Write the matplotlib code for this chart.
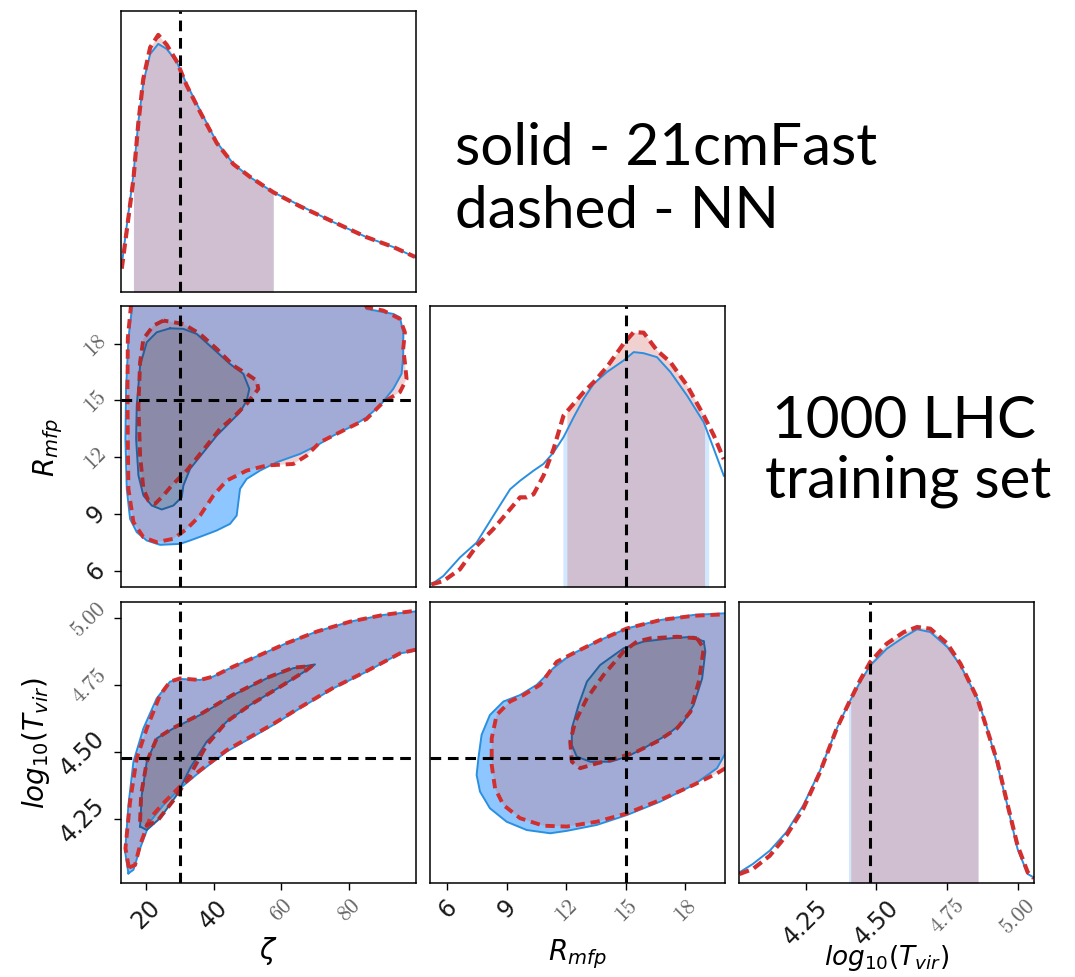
import matplotlib.pyplot as plt
import numpy as np

# parameter ranges shown on each axis
zeta_lim = (12.6, 99.8)
rmfp_lim = (5.13, 20.0)
tvir_lim = (4.013, 5.058)

# true parameter values
zeta_true = 30.0
rmfp_true = 15.0
tvir_true = 4.477

# ---- 1D marginals (relative density, 1 = top of the panel) ----
zeta_grid = [12.8, 14.3, 16.25, 17.7, 19.2, 21.2, 23.6, 26.1, 29.1, 32.0, 36.0,
             40.9, 45.8, 50.7, 57.6, 65.5, 75.3, 85.2, 93.1, 99.5]
zeta_pdf_sim = [0.095, 0.237, 0.415, 0.604, 0.746, 0.847, 0.883, 0.865, 0.818, 0.74,
                0.646, 0.533, 0.456, 0.409, 0.355, 0.308, 0.249, 0.195, 0.16, 0.124]
zeta_pdf_nn = [0.083, 0.22, 0.40, 0.60, 0.76, 0.87, 0.915, 0.88, 0.82, 0.735,
               0.64, 0.53, 0.455, 0.41, 0.355, 0.305, 0.25, 0.195, 0.16, 0.125]
zeta_ci_sim = (16.25, 57.6)
zeta_ci_nn = (16.3, 57.6)

rmfp_grid = [5.21, 5.80, 6.64, 7.48, 8.32, 9.17, 9.67, 10.01, 10.35, 10.85, 11.36,
             11.86, 12.37, 12.87, 13.38, 14.05, 14.89, 15.40, 15.90, 16.57, 17.25,
             18.09, 18.93, 19.44, 19.94]
rmfp_pdf_sim = [0.0095, 0.039, 0.105, 0.158, 0.253, 0.348, 0.378, 0.396, 0.414, 0.438,
                0.479, 0.533, 0.604, 0.669, 0.723, 0.765, 0.806, 0.836, 0.832, 0.818,
                0.765, 0.681, 0.586, 0.491, 0.396]
rmfp_pdf_nn = [0.0095, 0.021, 0.063, 0.146, 0.206, 0.277, 0.319, 0.319, 0.330, 0.396,
               0.491, 0.610, 0.652, 0.693, 0.729, 0.783, 0.866, 0.907, 0.905, 0.842,
               0.800, 0.717, 0.610, 0.539, 0.455]
rmfp_ci_sim = (11.83, 19.18)
rmfp_ci_nn = (12.03, 18.97)

tvir_grid = [4.015, 4.0625, 4.122, 4.181, 4.2405, 4.300, 4.359, 4.401, 4.442, 4.478,
             4.537, 4.597, 4.644, 4.691, 4.751, 4.798, 4.858, 4.893, 4.929, 4.964,
             5.000, 5.036, 5.057]
tvir_pdf_sim = [0.038, 0.068, 0.115, 0.181, 0.276, 0.400, 0.549, 0.638, 0.715, 0.774,
                0.834, 0.875, 0.903, 0.893, 0.840, 0.774, 0.656, 0.549, 0.418, 0.276,
                0.121, 0.032, 0.020]
tvir_pdf_nn = [0.032, 0.050, 0.097, 0.169, 0.264, 0.394, 0.549, 0.638, 0.721, 0.786,
               0.852, 0.893, 0.911, 0.905, 0.852, 0.780, 0.656, 0.543, 0.430, 0.281,
               0.133, 0.038, 0.017]
tvir_ci_sim = (4.401, 4.86)
tvir_ci_nn = (4.409, 4.86)

# ---- 2D credible contours (outer / inner), zeta vs R_mfp ----
zr_sim_outer = [(16.5, 20.9), (14.78, 18.26), (14.09, 15.61), (13.89, 12.97), (14.29, 10.32),
                (15.27, 8.73), (17.24, 8.03), (20.20, 7.59), (24.14, 7.36), (30.04, 7.41),
                (33.0, 7.59), (36.94, 7.85), (40.88, 8.12), (44.82, 8.47), (46.78, 8.91),
                (47.28, 9.62), (47.77, 10.32), (49.74, 10.85), (53.68, 11.29), (58.60, 11.73),
                (65.50, 12.17), (70.42, 12.61), (75.34, 13.14), (81.25, 13.67), (85.19, 14.11),
                (89.13, 14.73), (93.07, 15.61), (95.53, 16.41), (96.02, 17.38), (96.02, 18.61),
                (95.04, 19.40), (93.07, 19.58), (85.19, 19.84), (83.5, 20.9)]
zr_nn_outer = [(16.0, 20.9), (14.6, 18.3), (14.5, 15.6), (14.6, 12.97), (14.78, 10.32),
               (16.26, 8.56), (19.21, 7.76), (23.15, 7.50), (28.07, 7.68), (32.01, 8.20),
               (35.95, 8.91), (39.89, 9.97), (43.83, 10.76), (49.74, 11.29), (55.65, 11.56),
               (63.53, 11.64), (67.46, 12.08), (71.40, 12.79), (79.28, 13.50), (85.19, 14.02),
               (90.11, 14.91), (95.04, 15.44), (97.01, 16.14), (96.51, 17.02), (96.02, 17.73),
               (96.51, 18.61), (95.04, 19.32), (90.11, 19.76), (85.19, 19.93), (84.0, 20.9)]
zr_sim_inner = [(27.09, 18.82), (23.15, 18.61), (20.20, 18.08), (18.23, 16.85), (17.24, 14.73),
                (17.05, 12.97), (17.74, 11.03), (19.21, 9.97), (21.67, 9.44), (24.63, 9.23),
                (28.07, 9.44), (30.54, 9.88), (31.03, 10.50), (33.0, 11.38), (36.94, 12.26),
                (40.88, 13.14), (44.82, 13.85), (47.77, 14.38), (49.74, 14.99), (50.53, 15.61),
                (48.75, 16.41), (44.82, 16.93), (39.89, 17.73), (34.97, 18.52), (31.03, 18.79)]
zr_nn_inner = [(25.12, 19.23), (22.16, 18.96), (19.21, 18.26), (18.23, 17.02), (17.74, 14.73),
               (18.23, 12.08), (19.21, 10.32), (20.69, 9.70), (22.66, 9.53), (25.12, 9.97),
               (27.58, 10.50), (30.54, 11.03), (32.01, 11.29), (33.98, 11.73), (37.92, 12.61),
               (41.86, 13.50), (45.80, 14.11), (49.74, 14.82), (53.19, 15.61), (52.70, 16.05),
               (49.74, 16.41), (45.80, 16.85), (40.88, 17.73), (35.95, 18.52), (31.03, 19.05)]

# ---- zeta vs log10(T_vir) ----
zt_sim_outer = [(14.78, 4.049), (13.80, 4.130), (14.78, 4.303), (16.26, 4.464), (19.21, 4.588),
                (23.15, 4.700), (27.09, 4.762), (30.04, 4.772), (35.95, 4.768), (39.89, 4.781),
                (45.80, 4.818), (53.68, 4.861), (61.56, 4.905), (70.42, 4.948), (80.27, 4.985),
                (90.11, 5.010), (101.0, 5.025), (101.0, 4.880), (95.04, 4.867), (85.19, 4.799),
                (75.34, 4.737), (65.50, 4.663), (57.62, 4.601), (50.72, 4.551), (43.83, 4.502),
                (35.95, 4.427), (30.04, 4.365), (25.12, 4.303), (21.18, 4.241), (18.23, 4.142),
                (16.26, 4.062)]
zt_nn_outer = [(14.9, 4.070), (13.9, 4.142), (15.27, 4.316), (17.24, 4.477), (20.20, 4.588),
               (24.14, 4.712), (27.09, 4.762), (30.04, 4.774), (35.95, 4.768), (39.89, 4.781),
               (45.80, 4.818), (53.68, 4.861), (61.56, 4.905), (70.42, 4.948), (80.27, 4.985),
               (90.11, 5.010), (101.0, 5.028), (101.0, 4.885), (95.04, 4.867), (85.19, 4.801),
               (75.34, 4.739), (65.50, 4.666), (57.62, 4.605), (50.72, 4.556), (43.83, 4.507),
               (35.95, 4.432), (30.04, 4.372), (25.12, 4.310), (21.18, 4.254), (18.23, 4.155),
               (16.75, 4.080)]
zt_sim_inner = [(18.23, 4.223), (18.72, 4.340), (20.20, 4.464), (23.15, 4.551), (28.07, 4.588),
                (35.95, 4.638), (45.80, 4.712), (55.65, 4.774), (63.53, 4.812), (69.93, 4.826),
                (68.45, 4.812), (60.57, 4.750), (50.72, 4.675), (43.83, 4.613), (37.92, 4.539),
                (33.0, 4.440), (29.06, 4.340), (24.14, 4.254), (20.20, 4.210)]
zt_nn_inner = [(18.23, 4.241), (18.52, 4.340), (20.20, 4.464), (23.15, 4.551), (28.07, 4.590),
               (35.95, 4.640), (45.80, 4.714), (55.65, 4.776), (63.53, 4.814), (68.94, 4.820),
               (67.46, 4.805), (60.57, 4.750), (50.72, 4.675), (43.83, 4.613), (37.92, 4.526),
               (33.0, 4.415), (28.57, 4.328), (23.15, 4.241), (20.20, 4.229)]

# ---- R_mfp vs log10(T_vir) ----
rt_sim_outer = [(20.5, 5.018), (18.42, 5.010), (16.74, 4.991), (15.06, 4.960), (13.54, 4.911),
                (12.20, 4.861), (11.35, 4.812), (10.51, 4.750), (9.67, 4.712), (8.83, 4.688),
                (8.15, 4.638), (7.73, 4.564), (7.57, 4.477), (7.48, 4.415), (7.65, 4.353),
                (8.15, 4.291), (8.99, 4.241), (10.01, 4.210), (11.19, 4.198), (12.03, 4.207),
                (13.54, 4.229), (15.06, 4.266), (16.74, 4.316), (18.42, 4.378), (19.60, 4.440),
                (20.02, 4.495), (20.5, 4.52)]
rt_nn_outer = [(20.5, 5.014), (18.42, 5.007), (16.74, 4.991), (15.06, 4.960), (13.71, 4.917),
               (12.53, 4.874), (11.52, 4.836), (10.68, 4.750), (9.84, 4.712), (9.16, 4.688),
               (8.49, 4.638), (8.24, 4.551), (8.24, 4.452), (8.41, 4.365), (8.83, 4.303),
               (9.67, 4.254), (10.85, 4.226), (12.03, 4.223), (13.54, 4.241), (15.06, 4.272),
               (16.74, 4.322), (18.42, 4.378), (19.60, 4.421), (20.02, 4.440), (20.5, 4.45)]
rt_sim_inner = [(18.93, 4.911), (18.42, 4.929), (17.25, 4.923), (15.90, 4.911), (14.89, 4.886),
                (13.71, 4.824), (13.04, 4.762), (12.62, 4.675), (12.28, 4.588), (12.28, 4.526),
                (12.53, 4.483), (13.21, 4.464), (14.22, 4.464), (15.06, 4.483), (15.90, 4.514),
                (17.08, 4.564), (17.92, 4.613), (18.42, 4.675), (18.85, 4.774), (19.01, 4.874)]
rt_nn_inner = [(18.59, 4.923), (17.58, 4.929), (16.24, 4.923), (15.56, 4.911), (14.89, 4.874),
               (13.88, 4.787), (13.04, 4.700), (12.45, 4.613), (12.20, 4.539), (12.28, 4.464),
               (12.70, 4.440), (13.54, 4.458), (14.55, 4.477), (15.56, 4.502), (16.57, 4.539),
               (17.58, 4.588), (18.26, 4.650), (18.68, 4.762), (18.93, 4.886)]

# tick values, labels, and which labels use the serif face
zeta_ticks = [20, 40, 60, 80]
zeta_labels = ['20', '40', '60', '80']
zeta_serif = [False, False, True, True]
rmfp_ticks = [6, 9, 12, 15, 18]
rmfp_labels = ['6', '9', '12', '15', '18']
rmfp_serif = [False, False, True, True, True]
tvir_ticks = [4.25, 4.50, 4.75, 5.00]
tvir_labels = ['4.25', '4.50', '4.75', '5.00']
tvir_serif = [False, False, True, True]

BLUE_LINE = '#2b8fe0'
BLUE_INNER_LINE = '#24609e'
RED_LINE = '#d32f2f'

fig = plt.figure(figsize=(10.75, 9.78), dpi=100)

col_x = [0.1126, 0.400, 0.6874]
row_y = [0.7004, 0.3988, 0.0961]
w, h = 0.2744, 0.2873


def make_ax(row, col):
    ax = fig.add_axes([col_x[col], row_y[row], w, h])
    for s in ax.spines.values():
        s.set_linewidth(1.1)
    ax.tick_params(direction='out', length=5, width=1.0, pad=3)
    ax.set_xticks([])
    ax.set_yticks([])
    return ax


def style_ticks(ax, axis, ticks, labels, serif):
    if axis == 'x':
        ax.set_xticks(ticks)
        tl = ax.set_xticklabels(labels, rotation=45, ha='center', va='top')
    else:
        ax.set_yticks(ticks)
        tl = ax.set_yticklabels(labels, rotation=45, ha='right', va='center')
    for t, is_serif in zip(tl, serif):
        if is_serif:
            t.set_family('cmr10')
            t.set_fontsize(16)
            t.set_color('#666666')
        else:
            t.set_family('DejaVu Sans')
            t.set_fontsize(17)
            t.set_color('#1a1a1a')


def draw_1d(ax, x, pdf_sim, pdf_nn, ci_sim, ci_nn, truth, lim):
    x = np.asarray(x)
    for pdf, ci, col, a in [(pdf_sim, ci_sim, '#1e90ff', 0.2), (pdf_nn, ci_nn, '#c84646', 0.25)]:
        pdf = np.asarray(pdf)
        inside = (x > ci[0]) & (x < ci[1])
        xs = np.concatenate([[ci[0]], x[inside], [ci[1]]])
        ys = np.interp(xs, x, pdf)
        ax.fill_between(xs, 0, ys, color=col, alpha=a, lw=0)
    ax.plot(x, pdf_sim, color=BLUE_LINE, lw=1.4)
    ax.plot(x, pdf_nn, color=RED_LINE, lw=3.0, dashes=(2.4, 1.3))
    ax.axvline(truth, color='k', lw=2.2, dashes=(3.5, 2.2))
    ax.set_xlim(lim)
    ax.set_ylim(0, 1)


def closed(pts):
    arr = np.asarray(pts)
    return np.vstack([arr, arr[:1]])


def draw_2d(ax, sim_outer, sim_inner, nn_outer, nn_inner, tx, ty, xlim, ylim):
    so, si, no, ni = (closed(p) for p in (sim_outer, sim_inner, nn_outer, nn_inner))
    ax.fill(so[:, 0], so[:, 1], color='#1e90ff', alpha=0.5, lw=0)
    ax.fill(si[:, 0], si[:, 1], color='#4196b4', alpha=0.5, lw=0)
    ax.fill(no[:, 0], no[:, 1], color='#d16d76', alpha=0.3, lw=0)
    ax.fill(ni[:, 0], ni[:, 1], color='#a05064', alpha=0.2, lw=0)
    ax.plot(so[:, 0], so[:, 1], color=BLUE_LINE, lw=1.4)
    ax.plot(si[:, 0], si[:, 1], color=BLUE_INNER_LINE, lw=1.4)
    ax.plot(no[:, 0], no[:, 1], color=RED_LINE, lw=2.8, dashes=(2.4, 1.5))
    ax.plot(ni[:, 0], ni[:, 1], color='#b02a2e', lw=2.8, dashes=(2.4, 1.5))
    ax.axvline(tx, color='k', lw=2.2, dashes=(3.5, 2.2))
    ax.axhline(ty, color='k', lw=2.2, dashes=(3.5, 2.2))
    ax.set_xlim(xlim)
    ax.set_ylim(ylim)


# diagonal
ax00 = make_ax(0, 0)
draw_1d(ax00, zeta_grid, zeta_pdf_sim, zeta_pdf_nn, zeta_ci_sim, zeta_ci_nn, zeta_true, zeta_lim)
ax11 = make_ax(1, 1)
draw_1d(ax11, rmfp_grid, rmfp_pdf_sim, rmfp_pdf_nn, rmfp_ci_sim, rmfp_ci_nn, rmfp_true, rmfp_lim)
ax22 = make_ax(2, 2)
draw_1d(ax22, tvir_grid, tvir_pdf_sim, tvir_pdf_nn, tvir_ci_sim, tvir_ci_nn, tvir_true, tvir_lim)

# off-diagonal
ax10 = make_ax(1, 0)
draw_2d(ax10, zr_sim_outer, zr_sim_inner, zr_nn_outer, zr_nn_inner,
        zeta_true, rmfp_true, zeta_lim, rmfp_lim)
ax20 = make_ax(2, 0)
draw_2d(ax20, zt_sim_outer, zt_sim_inner, zt_nn_outer, zt_nn_inner,
        zeta_true, tvir_true, zeta_lim, tvir_lim)
ax21 = make_ax(2, 1)
draw_2d(ax21, rt_sim_outer, rt_sim_inner, rt_nn_outer, rt_nn_inner,
        rmfp_true, tvir_true, rmfp_lim, tvir_lim)

# ticks and labels
style_ticks(ax10, 'y', rmfp_ticks, rmfp_labels, rmfp_serif)
style_ticks(ax20, 'y', tvir_ticks, tvir_labels, tvir_serif)
style_ticks(ax20, 'x', zeta_ticks, zeta_labels, zeta_serif)
style_ticks(ax21, 'x', rmfp_ticks, rmfp_labels, rmfp_serif)
style_ticks(ax22, 'x', tvir_ticks, tvir_labels, tvir_serif)

ax10.set_ylabel(r'$R_{mfp}$', fontsize=20)
ax10.yaxis.set_label_coords(-0.19, 0.5)
ax20.set_ylabel(r'$log_{10}(T_{vir})$', fontsize=20)
ax20.yaxis.set_label_coords(-0.235, 0.5)
ax20.set_xlabel(r'$\zeta$', fontsize=20)
ax20.xaxis.set_label_coords(0.5, -0.18)
ax21.set_xlabel(r'$R_{mfp}$', fontsize=20)
ax21.xaxis.set_label_coords(0.5, -0.19)
ax22.set_xlabel(r'$log_{10}(T_{vir})$', fontsize=19)
ax22.xaxis.set_label_coords(0.5, -0.21)

# annotations
txt = dict(family=['Lato', 'DejaVu Sans'], fontsize=42, color='black', va='baseline', ha='left')
fig.text(0.4233, 0.8313, 'solid - 21cmFast', **txt)
fig.text(0.4233, 0.7669, 'dashed - NN', **txt)
fig.text(0.718, 0.5521, '1000 LHC', **txt)
fig.text(0.7116, 0.4908, 'training set', **txt)

fig.savefig('out.png', dpi=100)
